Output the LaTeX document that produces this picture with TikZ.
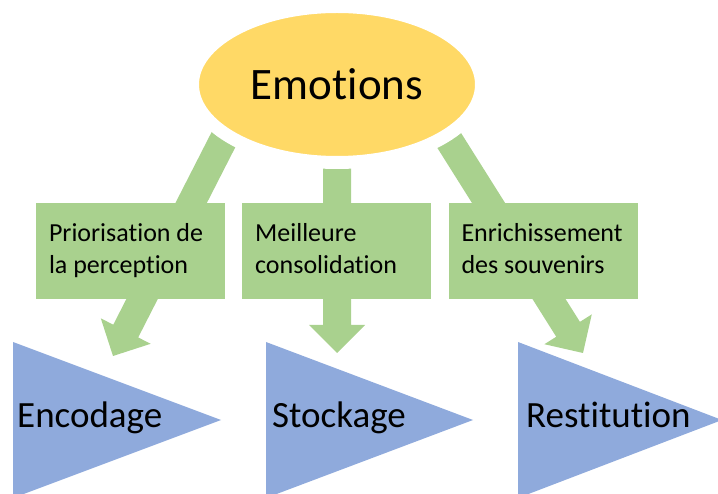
\documentclass[tikz,border=0pt]{standalone}
\usepackage{fontspec}
\setmainfont{Carlito}[Ligatures=NoCommon]
\usetikzlibrary{calc,shapes.geometric}
\definecolor{emoyellow}{HTML}{FFD966}
\definecolor{boxgreen}{HTML}{A9D18E}
\definecolor{triblue}{HTML}{8FAADC}
\tikzset{
  arrowfill/.style={fill=boxgreen},
  greenbox/.style={rectangle, fill=boxgreen, minimum height=96pt, text width=163pt,
    inner xsep=13pt, inner ysep=0pt, align=flush left,
    font=\fontsize{26}{32}\selectfont},
  tritext/.style={anchor=base west, inner sep=0pt, font=\fontsize{37}{44}\selectfont},
  tri/.style={fill=triblue}
}
\newcommand\blockarrow[2]{%
  \coordinate (hb) at ($(#2)!28pt!(#1)$);
  \fill[arrowfill] ($(#1)!14pt!90:(#2)$) -- ($(hb)!14pt!-90:(#1)$) -- ($(hb)!28pt!-90:(#1)$)
    -- (#2) -- ($(hb)!28pt!90:(#1)$) -- ($(hb)!14pt!90:(#1)$) -- ($(#1)!14pt!-90:(#2)$) -- cycle;
}
\begin{document}
\begin{tikzpicture}[x=1pt,y=-1pt]
\useasboundingbox (0,0) rectangle (718,494);
\clip (0,0) rectangle (718,494);
% arrow ends
\coordinate (s1) at (240.4,106.5);
\coordinate (t1) at (113,356);
\coordinate (s2) at (337,110);
\coordinate (t2) at (337,353);
\coordinate (s3) at (433.8,116);
\coordinate (t3) at (583,353);
\blockarrow{s1}{t1}
\blockarrow{s2}{t2}
\blockarrow{s3}{t3}
% ellipse
\node (emo) [ellipse, fill=emoyellow, draw=white, line width=13pt, minimum width=289pt,
  minimum height=156pt, inner sep=0pt, font=\fontsize{45}{52}\selectfont] at (337,84.5) {Emotions};
% green boxes
\node (b1) [greenbox] at (130.5,251) {Priorisation de\strut\\la perception\strut};
\node (b2) [greenbox] at (336.7,251) {Meilleure\strut\\consolidation\strut};
\node (b3) [greenbox] at (543,251) {Enrichissement\strut\\des souvenirs\strut};
% triangles
\fill[tri] (13,342) -- (13,498) -- (221,420) -- cycle;
\fill[tri] (266,342) -- (266,498) -- (473,420) -- cycle;
\fill[tri] (518,342) -- (518,498) -- (722,420) -- cycle;
\node (enc) [tritext] at (17,428) {Encodage};
\node (sto) [tritext] at (272,428) {Stockage};
\node (res) [tritext] at (526,428) {Restitution};
\end{tikzpicture}
\end{document}
